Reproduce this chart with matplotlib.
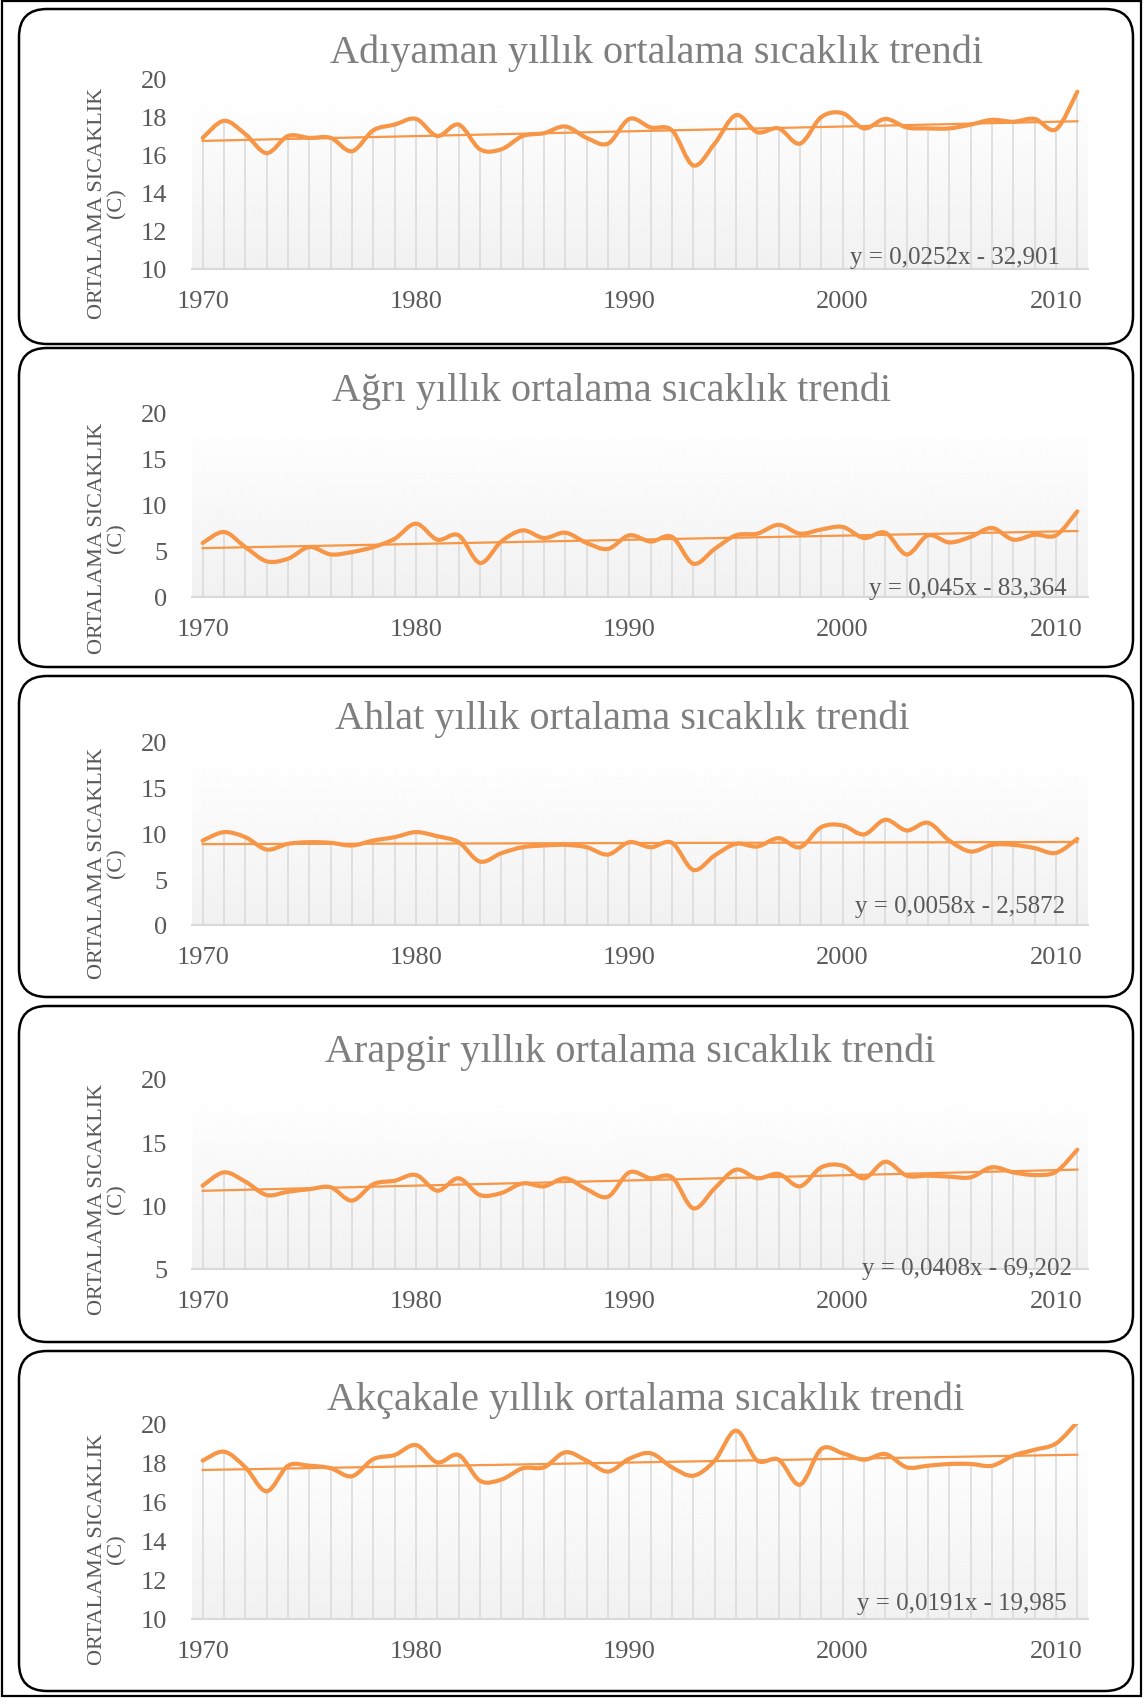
import numpy as np
import matplotlib
matplotlib.use("Agg")
import matplotlib.pyplot as plt
from matplotlib.path import Path
from matplotlib.patches import PathPatch, FancyBboxPatch, Rectangle

# ---------------- data ----------------
years = list(range(1970, 2012))

adiyaman = [16.9, 17.8, 17.1, 16.1, 17.0, 16.9, 16.9, 16.2, 17.3, 17.6,
            17.9, 17.0, 17.6, 16.3, 16.3, 17.0, 17.15, 17.5, 16.9, 16.6,
            17.9, 17.45, 17.3, 15.45, 16.6, 18.1, 17.2, 17.4, 16.6, 18.0,
            18.2, 17.4, 17.9, 17.45, 17.4, 17.4, 17.6, 17.85, 17.75, 17.9,
            17.35, 19.33]

agri = [5.84, 7.03, 5.4, 3.86, 4.14, 5.4, 4.6, 4.86, 5.4, 6.3,
        7.93, 6.2, 6.67, 3.68, 6.0, 7.2, 6.38, 6.95, 5.84, 5.2,
        6.67, 6.0, 6.5, 3.6, 5.2, 6.67, 6.85, 7.8, 6.85, 7.3,
        7.57, 6.38, 6.95, 4.6, 6.67, 5.9, 6.5, 7.46, 6.2, 6.74,
        6.67, 9.26]

ahlat = [9.23, 10.15, 9.6, 8.25, 8.87, 9.05, 8.98, 8.69, 9.23, 9.6,
         10.15, 9.7, 9.05, 6.93, 7.85, 8.5, 8.69, 8.76, 8.5, 7.7,
         9.05, 8.5, 8.98, 6.02, 7.6, 8.87, 8.58, 9.49, 8.5, 10.7,
         10.88, 9.9, 11.5, 10.33, 11.17, 9.23, 8.03, 8.76, 8.76, 8.4,
         7.88, 9.42]

arapgir = [11.58, 12.63, 11.9, 10.84, 11.1, 11.3, 11.45, 10.4, 11.7, 11.97,
           12.42, 11.18, 12.16, 10.84, 11.0, 11.76, 11.53, 12.16, 11.3, 10.71,
           12.63, 12.16, 12.24, 9.79, 11.37, 12.84, 12.16, 12.5, 11.53, 13.03,
           13.16, 12.16, 13.47, 12.37, 12.37, 12.29, 12.24, 13.03, 12.63, 12.42,
           12.68, 14.42]

akcakale = [18.12, 18.58, 17.78, 16.55, 17.86, 17.86, 17.73, 17.32, 18.2, 18.41,
            18.92, 18.03, 18.41, 17.09, 17.15, 17.73, 17.78, 18.55, 18.12, 17.56,
            18.22, 18.5, 17.78, 17.35, 18.12, 19.66, 18.12, 18.17, 16.89, 18.72,
            18.5, 18.17, 18.46, 17.78, 17.86, 17.95, 17.95, 17.86, 18.38, 18.68,
            19.0, 20.1]

titles = ["Adıyaman yıllık ortalama sıcaklık trendi",
          "Ağrı yıllık ortalama sıcaklık trendi",
          "Ahlat yıllık ortalama sıcaklık trendi",
          "Arapgir yıllık ortalama sıcaklık trendi",
          "Akçakale yıllık ortalama sıcaklık trendi"]
equations = ["y = 0,0252x - 32,901", "y = 0,045x - 83,364", "y = 0,0058x - 2,5872",
             "y = 0,0408x - 69,202", "y = 0,0191x - 19,985"]
trend_slopes = [0.0252, 0.045, 0.0058, 0.0408, 0.0191]
trend_intercepts = [-32.901, -83.364, -2.5872, -69.202, -19.985]
y_min = [10, 0, 0, 5, 10]
y_max = [20, 20, 20, 20, 20]
y_step = [2, 5, 5, 5, 2]
x_tick_years = [1970, 1980, 1990, 2000, 2010]
y_label = "ORTALAMA SICAKLIK\n(C)"

series = [adiyaman, agri, ahlat, arapgir, akcakale]

# ---------------- layout (pixels) ----------------
W, H = 1143, 1699
boxes = [(10, 345), (349, 668), (677, 998), (1007, 1343), (1352, 1692)]
plot_tb = [(80, 270), (413, 598), (743, 926), (1080, 1270), (1425, 1620)]
plot_lr = (192, 1088)
title_xy = [(657, 63), (612, 401), (622, 729), (630, 1062), (646, 1410)]
ylab_y = [203, 538, 863, 1199, 1549]
eq_xy = [(1060, 258), (1067, 589), (1065, 907), (1072, 1269), (1067, 1604)]

ORANGE = "#F79646"
GRID = "#D9D9D9"
TXT = "#595959"
FONT = "Liberation Serif"


def smooth_path(x, y):
    x = np.asarray(x, float)
    y = np.asarray(y, float)
    n = len(x)
    verts = [(x[0], y[0])]
    codes = [Path.MOVETO]
    for i in range(n - 1):
        j0 = max(i - 1, 0)
        j3 = min(i + 2, n - 1)
        c1 = (x[i] + (x[i + 1] - x[j0]) / 6.0, y[i] + (y[i + 1] - y[j0]) / 6.0)
        c2 = (x[i + 1] - (x[j3] - x[i]) / 6.0, y[i + 1] - (y[j3] - y[i]) / 6.0)
        verts += [c1, c2, (x[i + 1], y[i + 1])]
        codes += [Path.CURVE4] * 3
    return Path(verts, codes)


fig = plt.figure(figsize=(W / 100, H / 100), dpi=100)
fig.patch.set_facecolor("white")

bg = fig.add_axes([0, 0, 1, 1], zorder=0)
bg.set_xlim(0, W)
bg.set_ylim(H, 0)
bg.axis("off")
bg.add_patch(Rectangle((2, 2), W - 4, H - 4, fill=False, ec="black", lw=1.6))

for k in range(5):
    top, bot = boxes[k]
    bg.add_patch(FancyBboxPatch((19, top), 1114, bot - top,
                                boxstyle="round,pad=0,rounding_size=28",
                                fc="white", ec="black", lw=1.8))
    bg.text(title_xy[k][0], title_xy[k][1], titles[k], ha="center", va="baseline",
            fontsize=29, color="#7F7F7F", family=FONT)
    bg.text(107, ylab_y[k], y_label, rotation=90, ha="center", va="center",
            multialignment="center", fontsize=16, color=TXT, family=FONT,
            linespacing=1.0)

    ymin, ymax = y_min[k], y_max[k]
    ptop, pbot = plot_tb[k]
    ax = fig.add_axes([plot_lr[0] / W, 1 - pbot / H, (plot_lr[1] - plot_lr[0]) / W,
                       (pbot - ptop) / H], zorder=1)
    ax.patch.set_alpha(0)

    grad = np.linspace(0.945, 0.995, 256).reshape(-1, 1)
    ax.imshow(grad, extent=[1969.5, 2011.5, ymin, ymin + 0.86 * (ymax - ymin)],
              origin="lower", cmap="gray", vmin=0, vmax=1, aspect="auto", zorder=0)
    ax.set_xlim(1969.5, 2011.5)
    ax.set_ylim(ymin, ymax)

    vals = series[k]
    ax.vlines(years, ymin, vals, color=GRID, lw=1.1, zorder=1)
    ax.add_patch(PathPatch(smooth_path(years, vals), fill=False, ec=ORANGE, lw=3.0,
                           zorder=3, capstyle="round", joinstyle="round"))
    yr = np.array(years, float)
    ax.plot(yr, trend_slopes[k] * yr + trend_intercepts[k], color=ORANGE, lw=1.6, zorder=4)

    for s in ["top", "right", "left"]:
        ax.spines[s].set_visible(False)
    ax.spines["bottom"].set_color(GRID)
    ax.spines["bottom"].set_linewidth(1.5)
    ax.spines["bottom"].set_zorder(2)

    ax.set_xticks(x_tick_years)
    ax.set_xticklabels([str(v) for v in x_tick_years])
    ax.set_yticks(np.arange(ymin, ymax + 0.1, y_step[k]))
    ax.tick_params(length=0, labelsize=19, labelcolor=TXT)
    ax.tick_params(axis="x", pad=15)
    ax.tick_params(axis="y", pad=18)
    for lab in ax.get_xticklabels() + ax.get_yticklabels():
        lab.set_family(FONT)

    fig.text(eq_xy[k][0] / W, 1 - eq_xy[k][1] / H, equations[k], ha="right", va="center",
             fontsize=18, color=TXT, family=FONT, zorder=5)

fig.savefig("out.png", dpi=100)
